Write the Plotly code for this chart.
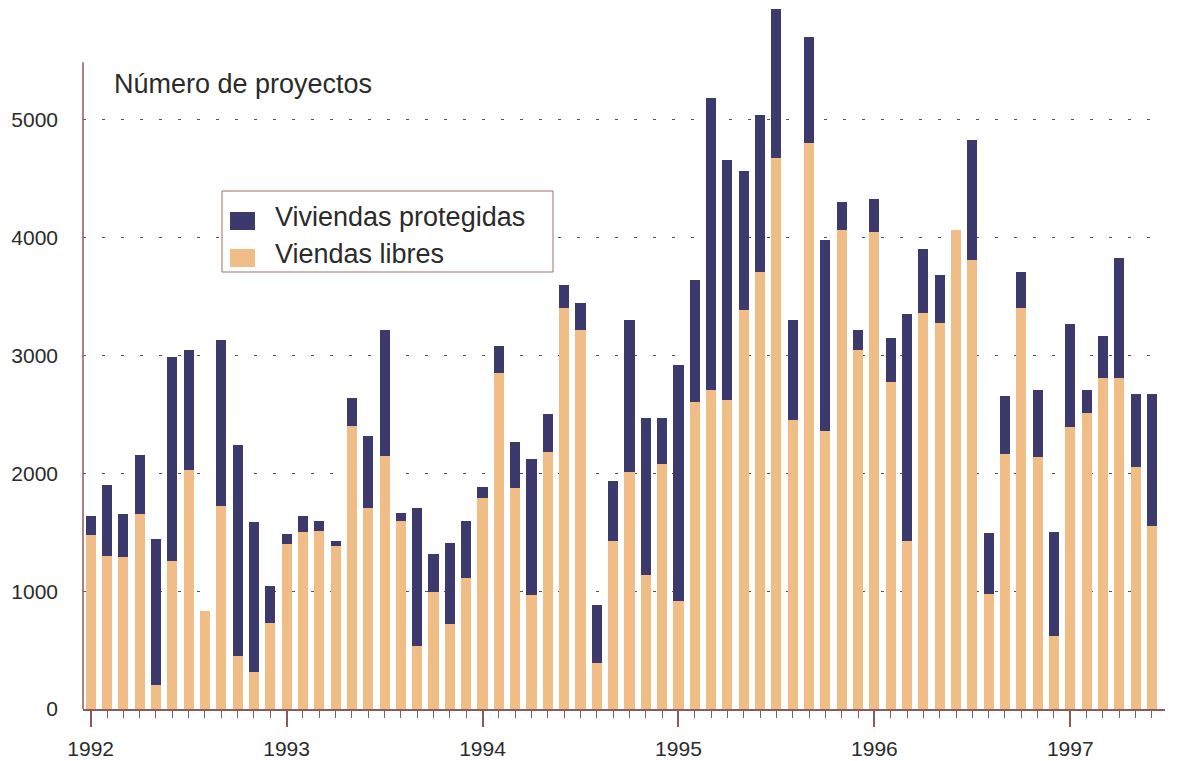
import plotly.graph_objects as go

# Monthly data, Jan 1992 - Jun 1997
years = ["1992", "1993", "1994", "1995", "1996", "1997"]
months_per_year = 12

libres = [1480, 1300, 1290, 1655, 200, 1256, 2029, 835, 1726, 450, 317, 733,
          1398, 1505, 1514, 1386, 2405, 1706, 2148, 1596, 535, 993, 722, 1112,
          1791, 2852, 1876, 968, 2182, 3404, 3220, 389, 1427, 2012, 1136, 2084,
          920, 2608, 2712, 2620, 3384, 3712, 4680, 2452, 4804, 2360, 4064, 3050,
          4045, 2776, 1424, 3362, 3279, 4069, 3810, 976, 2166, 3403, 2138, 621,
          2397, 2514, 2807, 2807, 2052, 1555]

protegidas = [160, 600, 365, 505, 1243, 1734, 1018, 0, 1406, 1791, 1273, 311,
              88, 133, 82, 40, 235, 611, 1069, 68, 1171, 323, 687, 484,
              94, 229, 391, 1154, 322, 195, 228, 497, 509, 1287, 1336, 388,
              1996, 1032, 2472, 2040, 1184, 1328, 1264, 852, 904, 1624, 244, 170,
              281, 372, 1931, 545, 404, 0, 1021, 517, 493, 304, 569, 882,
              875, 196, 359, 1021, 620, 1117]

series_names = ["Viviendas protegidas", "Viendas libres"]
y_ticks = [0, 1000, 2000, 3000, 4000, 5000]

x = list(range(len(libres)))
year_pos = [i * months_per_year for i in range(len(years))]

NAVY = "#3c3a6d"
TAN = "#f0bd87"
AXIS = "#8c5a5a"
TEXT = "#2b2b2b"
FONT = "Liberation Sans, Arial, sans-serif"

W, H = 1177, 761
ML, MR, MT, MB = 83, 12, 5, 52
PW, PH = W - ML - MR, H - MT - MB


def px_x(px):
    return (px - ML) / PW


def px_y(py):
    return (H - MB - py) / PH


fig = go.Figure()
fig.add_trace(go.Bar(x=x, y=libres, name=series_names[1], showlegend=False,
                     marker=dict(color=TAN, line=dict(width=0)), width=0.62))
fig.add_trace(go.Bar(x=x, y=protegidas, name=series_names[0], showlegend=False,
                     marker=dict(color=NAVY, line=dict(width=0)), width=0.62))

# Legend box (drawn as layout decoration)
shapes = [
    dict(type="rect", xref="paper", yref="paper",
         x0=px_x(222), x1=px_x(553), y0=px_y(272), y1=px_y(191),
         line=dict(color="#9a6f6f", width=1), fillcolor="white", layer="above"),
    dict(type="rect", xref="paper", yref="paper",
         x0=px_x(230), x1=px_x(255), y0=px_y(230), y1=px_y(212),
         line=dict(width=0), fillcolor=NAVY, layer="above"),
    dict(type="rect", xref="paper", yref="paper",
         x0=px_x(230), x1=px_x(255), y0=px_y(267), y1=px_y(249),
         line=dict(width=0), fillcolor=TAN, layer="above"),
    dict(type="line", xref="paper", yref="y", x0=0, x1=0,
         y0=0, y1=5490, line=dict(color=AXIS, width=1.5), layer="above"),
]

annotations = [
    dict(text="Número de proyectos", xref="paper", yref="paper",
         x=px_x(112), y=px_y(84), xanchor="left", yanchor="middle",
         showarrow=False, font=dict(size=27, family=FONT, color=TEXT)),
    dict(text=series_names[0], xref="paper", yref="paper",
         x=px_x(273), y=px_y(217), xanchor="left", yanchor="middle",
         showarrow=False, font=dict(size=27, family=FONT, color=TEXT)),
    dict(text=series_names[1], xref="paper", yref="paper",
         x=px_x(273), y=px_y(254), xanchor="left", yanchor="middle",
         showarrow=False, font=dict(size=27, family=FONT, color=TEXT)),
]

fig.update_layout(
    width=W, height=H,
    barmode="stack",
    plot_bgcolor="white", paper_bgcolor="white",
    margin=dict(l=ML, r=MR, t=MT, b=MB, autoexpand=False),
    font=dict(family=FONT, color=TEXT, size=21),
    showlegend=False,
    hovermode=False,
    xaxis=dict(
        range=[-0.47, 65.8], automargin=False,
        tickmode="array", tickvals=year_pos, ticktext=years,
        ticks="outside", ticklen=16, tickwidth=1.5, tickcolor=AXIS,
        showline=True, linecolor=AXIS, linewidth=1.5,
        showgrid=False, zeroline=False,
        tickfont=dict(size=21, family=FONT, color=TEXT),
        ticklabelstandoff=4,
        minor=dict(dtick=1, tick0=0, ticks="outside", ticklen=7,
                   tickwidth=1.2, tickcolor=AXIS, showgrid=False),
    ),
    yaxis=dict(
        range=[0, 5976], automargin=False,
        tickmode="array", tickvals=y_ticks,
        ticks="", showline=False, zeroline=False,
        showgrid=True, gridcolor="#555555", gridwidth=1, griddash="3px,16px",
        tickfont=dict(size=21, family=FONT, color=TEXT),
        ticklabelstandoff=24,
    ),
    shapes=shapes,
    annotations=annotations,
)

post = (
    "document.documentElement.style.margin='0';"
    "document.documentElement.style.overflow='hidden';"
    "document.body.style.margin='0';"
    "document.body.style.overflow='hidden';"
    "var d=document.getElementsByClassName('plotly-graph-div')[0];"
    "d.style.position='fixed';d.style.left='0px';d.style.top='0px';"
)

fig.write_html("out.html", config={"displayModeBar": False}, post_script=post)
